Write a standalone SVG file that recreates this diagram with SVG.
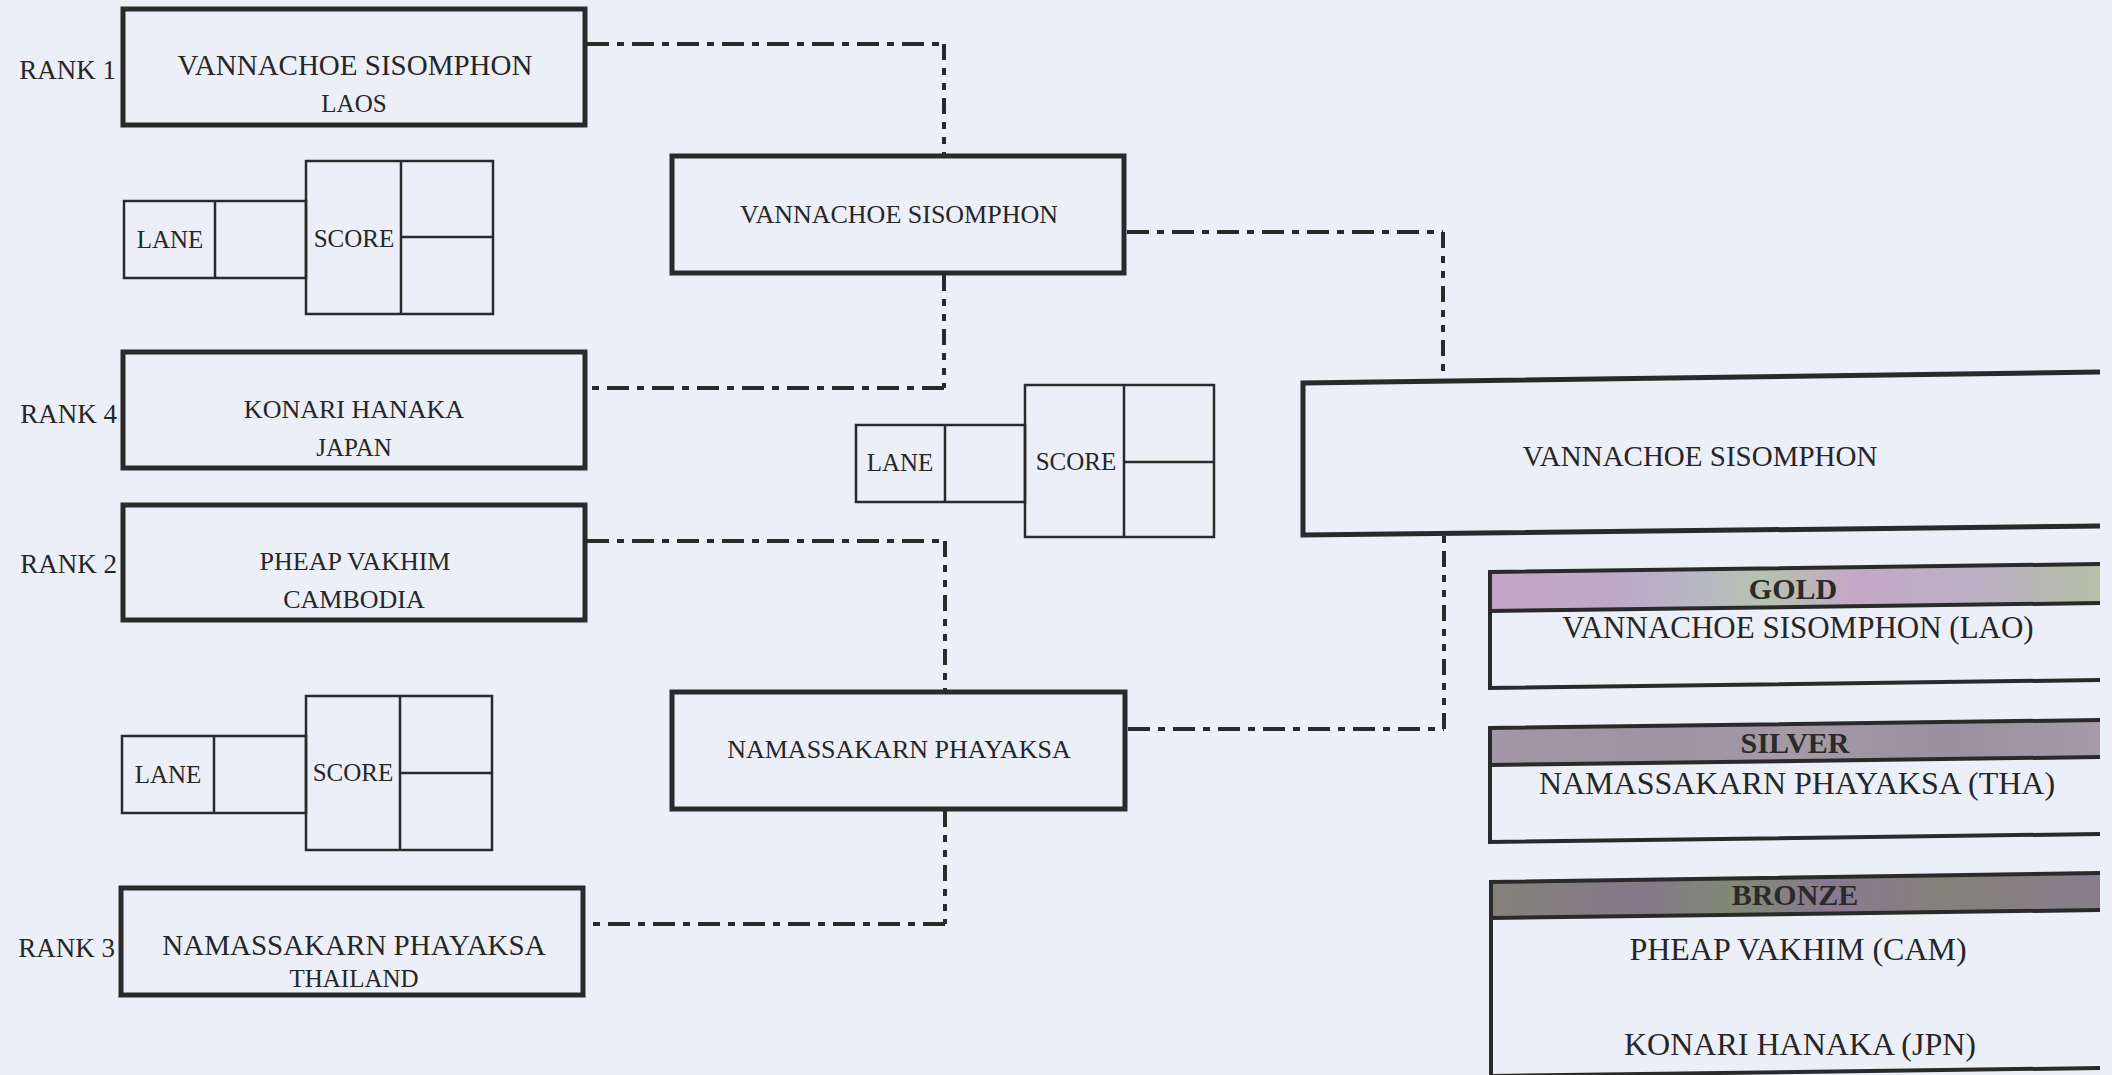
<svg xmlns="http://www.w3.org/2000/svg" width="2112" height="1075" viewBox="0 0 2112 1075">
<defs>
<style>
.bg{fill:#eceef8}
.box{fill:none;stroke:#2a2a2a;stroke-width:5}
.thin{fill:none;stroke:#2a2a2a;stroke-width:2.5}
.med{fill:none;stroke:#2a2a2a;stroke-width:4}
.t{font-family:"Liberation Serif","Times New Roman",serif;fill:#262626;text-anchor:middle}
.rank{font-family:"Liberation Serif","Times New Roman",serif;fill:#262626;text-anchor:end;font-size:27px}
.hd{font-family:"Liberation Serif","Times New Roman",serif;fill:#2a2a2a;text-anchor:middle;font-weight:bold;font-size:30px}
.ch{fill:none;stroke:#2a2a2a;stroke-width:4;stroke-dasharray:22 8 7 8}
.cv{fill:none;stroke:#2a2a2a;stroke-width:4;stroke-dasharray:16 8 7 8 7 8}
</style>
<linearGradient id="gGold" x1="0" y1="0" x2="1" y2="0">
<stop offset="0" stop-color="#c3a6c6"/>
<stop offset="0.2" stop-color="#bda8c8"/>
<stop offset="0.35" stop-color="#b8b8c4"/>
<stop offset="0.45" stop-color="#b7c2ae"/>
<stop offset="0.6" stop-color="#c4a8c6"/>
<stop offset="0.8" stop-color="#bbb0c4"/>
<stop offset="1" stop-color="#b6c0a8"/>
</linearGradient>
<linearGradient id="gSilver" x1="0" y1="0" x2="1" y2="0">
<stop offset="0" stop-color="#a397a6"/>
<stop offset="0.3" stop-color="#9e93a3"/>
<stop offset="0.5" stop-color="#a39aa4"/>
<stop offset="0.75" stop-color="#9a909f"/>
<stop offset="1" stop-color="#a49aa8"/>
</linearGradient>
<linearGradient id="gBronze" x1="0" y1="0" x2="1" y2="0">
<stop offset="0" stop-color="#838279"/>
<stop offset="0.25" stop-color="#85788a"/>
<stop offset="0.4" stop-color="#7f8a74"/>
<stop offset="0.55" stop-color="#8a7892"/>
<stop offset="0.75" stop-color="#838278"/>
<stop offset="1" stop-color="#8a7c8e"/>
</linearGradient>
</defs>
<rect class="bg" x="0" y="0" width="2112" height="1075"/>

<g id="connectors">
<path class="ch" d="M587,44 H944"/>
<path class="cv" d="M944,44 V156"/>
<path class="cv" d="M944,275 V388"/>
<path class="ch" d="M944,388 H587"/>
<path class="ch" d="M587,541 H945"/>
<path class="cv" d="M945,541 V692"/>
<path class="cv" d="M945,811 V924"/>
<path class="ch" d="M945,924 H585"/>
<path class="ch" d="M1127,232 H1443"/>
<path class="cv" d="M1443,232 V381"/>
<path class="ch" d="M1128,729 H1444"/>
<path class="cv" d="M1444,729 V535"/>
</g>

<g id="rank1">
<rect class="box" x="123" y="9" width="462" height="116"/>
<text class="rank" x="116" y="79">RANK 1</text>
<text class="t" x="355" y="75" font-size="29">VANNACHOE SISOMPHON</text>
<text class="t" x="354" y="112" font-size="25">LAOS</text>
</g>

<g id="lane1">
<rect class="thin" x="124" y="201" width="182" height="77"/>
<line class="thin" x1="215" y1="201" x2="215" y2="278"/>
<rect class="thin" x="306" y="161" width="187" height="153"/>
<line class="thin" x1="401" y1="161" x2="401" y2="314"/>
<line class="thin" x1="401" y1="237" x2="493" y2="237"/>
<text class="t" x="170" y="248" font-size="25">LANE</text>
<text class="t" x="354" y="247" font-size="25">SCORE</text>
</g>

<g id="rank4">
<rect class="box" x="123" y="352" width="462" height="116"/>
<text class="rank" x="117" y="423">RANK 4</text>
<text class="t" x="354" y="418" font-size="26">KONARI HANAKA</text>
<text class="t" x="354" y="456" font-size="25">JAPAN</text>
</g>

<g id="rank2">
<rect class="box" x="123" y="505" width="462" height="115"/>
<text class="rank" x="117" y="573">RANK 2</text>
<text class="t" x="355" y="570" font-size="26">PHEAP VAKHIM</text>
<text class="t" x="354" y="608" font-size="26">CAMBODIA</text>
</g>

<g id="lane2">
<rect class="thin" x="122" y="736" width="184" height="77"/>
<line class="thin" x1="214" y1="736" x2="214" y2="813"/>
<rect class="thin" x="306" y="696" width="186" height="154"/>
<line class="thin" x1="400" y1="696" x2="400" y2="850"/>
<line class="thin" x1="400" y1="773" x2="492" y2="773"/>
<text class="t" x="168" y="783" font-size="25">LANE</text>
<text class="t" x="353" y="781" font-size="25">SCORE</text>
</g>

<g id="rank3">
<rect class="box" x="121" y="888" width="462" height="107"/>
<text class="rank" x="115" y="957">RANK 3</text>
<text class="t" x="354" y="955" font-size="29">NAMASSAKARN PHAYAKSA</text>
<text class="t" x="354" y="987" font-size="25">THAILAND</text>
</g>

<g id="semi1">
<rect class="box" x="672" y="156" width="452" height="117"/>
<text class="t" x="899" y="223" font-size="26">VANNACHOE SISOMPHON</text>
</g>

<g id="semi2">
<rect class="box" x="672" y="692" width="453" height="117"/>
<text class="t" x="899" y="758" font-size="26">NAMASSAKARN PHAYAKSA</text>
</g>

<g id="lane3">
<rect class="thin" x="856" y="425" width="169" height="77"/>
<line class="thin" x1="945" y1="425" x2="945" y2="502"/>
<rect class="thin" x="1025" y="385" width="189" height="152"/>
<line class="thin" x1="1124" y1="385" x2="1124" y2="537"/>
<line class="thin" x1="1124" y1="462" x2="1214" y2="462"/>
<text class="t" x="900" y="471" font-size="25">LANE</text>
<text class="t" x="1076" y="470" font-size="25">SCORE</text>
</g>

<g id="final">
<path class="box" d="M2100,372 L1303,383 L1303,535 L2100,526"/>
<text class="t" x="1700" y="466" font-size="29">VANNACHOE SISOMPHON</text>
</g>

<g id="gold">
<path d="M1490,572 L2100,564 L2100,603 L1490,611 Z" fill="url(#gGold)"/>
<path class="med" d="M2100,564 L1490,572 L1490,688 L2100,680"/>
<line class="med" x1="1490" y1="611" x2="2100" y2="603"/>
<text class="hd" x="1793" y="599">GOLD</text>
<text class="t" x="1798" y="638" font-size="31">VANNACHOE SISOMPHON (LAO)</text>
</g>

<g id="silver">
<path d="M1490,728 L2100,720 L2100,757 L1490,765 Z" fill="url(#gSilver)"/>
<path class="med" d="M2100,720 L1490,728 L1490,842 L2100,834"/>
<line class="med" x1="1490" y1="765" x2="2100" y2="757"/>
<text class="hd" x="1795" y="753">SILVER</text>
<text class="t" x="1797" y="794" font-size="32">NAMASSAKARN PHAYAKSA (THA)</text>
</g>

<g id="bronze">
<path d="M1491,882 L2100,873 L2100,910 L1491,918 Z" fill="url(#gBronze)"/>
<path class="med" d="M2100,873 L1491,882 L1491,1078"/>
<line class="med" x1="1491" y1="918" x2="2100" y2="910"/>
<line class="med" x1="1491" y1="1076" x2="2100" y2="1068"/>
<text class="hd" x="1795" y="905">BRONZE</text>
<text class="t" x="1798" y="960" font-size="32">PHEAP VAKHIM (CAM)</text>
<text class="t" x="1800" y="1055" font-size="32">KONARI HANAKA (JPN)</text>
</g>
</svg>
